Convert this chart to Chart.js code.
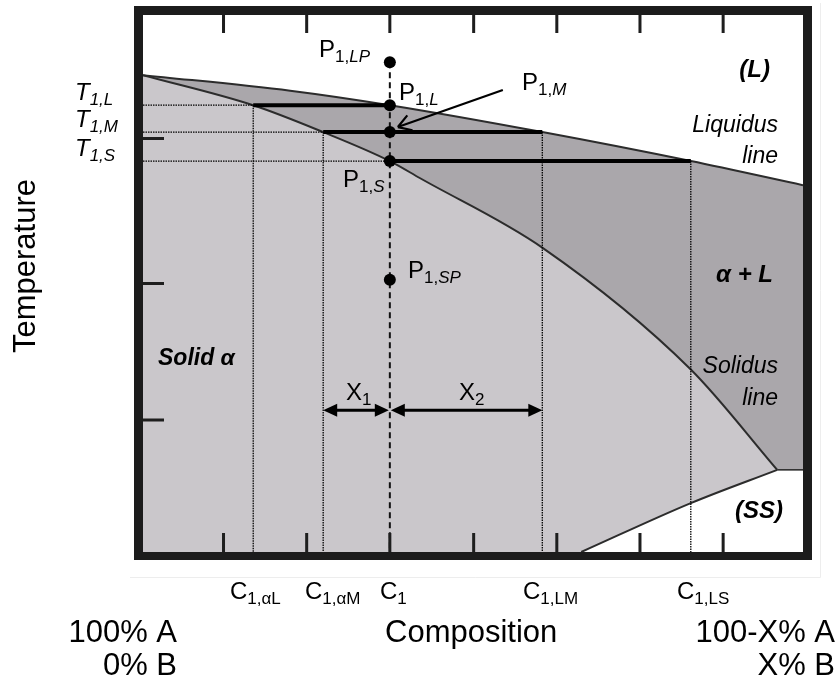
<!DOCTYPE html>
<html>
<head>
<meta charset="utf-8">
<title>Binary phase diagram – lever rule</title>
<script src="https://cdn.jsdelivr.net/npm/chart.js@4.4.1/dist/chart.umd.min.js"></script>
<style>
  html, body { margin: 0; padding: 0; background: #ffffff; }
  #wrap { width: 840px; height: 689px; }
</style>
</head>
<body>
<div id="wrap"><canvas id="diagram" width="840" height="689"></canvas></div>
<script>
// Composition axis runs 0 (pure A) .. 100 (X% B); temperature axis 0 .. 100 (arbitrary units)
const compositionTicks = [12.2, 24.8, 37.4, 50.1, 62.7, 75.3, 87.9];
const temperatureTicks = [24.6, 50.0, 77.0];

// Liquidus and solidus boundaries
const liquidusX = [0, 22.3, 37.4, 60.5, 83.0, 100];
const liquidusT = [88.8, 85.9, 83.2, 78.2, 72.8, 68.3];
const solidusX  = [0, 16.7, 27.3, 37.4, 42.0, 60.6, 83.0, 96.1];
const solidusT  = [88.8, 83.2, 78.2, 72.8, 69.6, 56.6, 34.0, 15.3];

// Boundary of the (SS) field and its horizontal shelf
const ssX = [66.4, 83.0, 96.1];
const ssT = [0, 9.1, 15.3];
const shelfX = [96.1, 100];
const shelfT = [15.3, 15.3];

// Compositions of the alloy and the phases at each temperature
const compositions = { alphaL: 16.7, alphaM: 27.3, c1: 37.4, LM: 60.5, LS: 83.0 };
// Temperatures of the marked points on the C1 vertical
const temps = { LP: 91.2, L: 83.2, M: 78.2, S: 72.8, SP: 50.7 };
const pointTemps = [temps.LP, temps.L, temps.M, temps.S, temps.SP];
// Temperature at which the X1 / X2 spans are drawn
const spanTemp = 26.4;

const pts = (xs, ts) => xs.map((v, i) => ({ x: v, y: ts[i] }));
const FONT = '"Liberation Sans", Arial, Helvetica, sans-serif';
const f = (style, size) => `${style} ${size}px ${FONT}`;

const dotted = { borderColor: '#000000', borderWidth: 1.3, borderDash: [1.5, 1], pointRadius: 0, fill: false, order: 5 };
const tie = { borderColor: '#000000', borderWidth: 4, pointRadius: 0, fill: false, order: 3 };
const curve = { borderColor: '#2c2c2c', borderWidth: 2, pointRadius: 0, cubicInterpolationMode: 'monotone' };

const c = compositions, t = temps;

const datasets = [
  { ...curve, data: pts(liquidusX, liquidusT), fill: 'start', backgroundColor: '#aaa7ab', order: 10 },
  { ...curve, data: pts(solidusX, solidusT), fill: 'start', backgroundColor: '#cac7cb', order: 9 },
  { ...curve, data: pts(ssX, ssT), fill: 'start', backgroundColor: '#ffffff', order: 8 },
  // white field under the shelf, overlapping the curve's end slightly so no seam shows
  { data: pts([shelfX[0] - 0.3, shelfX[1]], shelfT), borderWidth: 0, pointRadius: 0, fill: 'start', backgroundColor: '#ffffff', order: 8 },
  { ...curve, borderWidth: 1.6, data: pts(shelfX, shelfT), fill: false, order: 7 },
  // isotherms up to the solid-phase compositions
  { ...dotted, data: pts([0, c.alphaL], [t.L, t.L]) },
  { ...dotted, data: pts([0, c.alphaM], [t.M, t.M]) },
  { ...dotted, data: pts([0, c.c1], [t.S, t.S]) },
  // composition drop lines
  { ...dotted, data: pts([c.alphaL, c.alphaL], [t.L, 0]) },
  { ...dotted, data: pts([c.alphaM, c.alphaM], [t.M, 0]) },
  { ...dotted, data: pts([c.LM, c.LM], [t.M, 0]) },
  { ...dotted, data: pts([c.LS, c.LS], [t.S, 0]) },
  // alloy composition line
  { data: pts([c.c1, c.c1], [t.LP, 0]), borderColor: '#111111', borderWidth: 2, borderDash: [6, 4], pointRadius: 0, fill: false, order: 4 },
  // tie lines
  { ...tie, data: pts([c.alphaL, c.c1], [t.L, t.L]) },
  { ...tie, data: pts([c.alphaM, c.LM], [t.M, t.M]) },
  { ...tie, data: pts([c.c1, c.LS], [t.S, t.S]) },
  // state points
  { data: pointTemps.map(v => ({ x: c.c1, y: v })), showLine: false, pointRadius: 6, pointBackgroundColor: '#000000', pointBorderColor: '#000000', pointBorderWidth: 0, fill: false, order: 1 }
];

function rich(ctx, x, y, parts, align) {
  let w = 0;
  parts.forEach(p => { ctx.font = p[1]; w += ctx.measureText(p[0]).width; });
  let cx = align === 'right' ? x - w : (align === 'center' ? x - w / 2 : x);
  ctx.textAlign = 'left';
  ctx.textBaseline = 'alphabetic';
  parts.forEach(p => {
    ctx.font = p[1];
    ctx.fillText(p[0], cx, y + (p[2] || 0));
    cx += ctx.measureText(p[0]).width;
  });
}

function head(ctx, tipX, tipY, dir) {
  // filled arrowhead pointing in direction dir (+1 right, -1 left)
  ctx.beginPath();
  ctx.moveTo(tipX, tipY);
  ctx.lineTo(tipX - dir * 14, tipY - 6.5);
  ctx.lineTo(tipX - dir * 14, tipY + 6.5);
  ctx.closePath();
  ctx.fill();
}

function span(ctx, x1, x2, yy) {
  ctx.beginPath();
  ctx.moveTo(x1 + 8, yy);
  ctx.lineTo(x2 - 8, yy);
  ctx.stroke();
  head(ctx, x1, yy, -1);
  head(ctx, x2, yy, 1);
}

const decor = {
  id: 'diagramDecor',
  beforeDraw(chart) {
    const ctx = chart.ctx;
    ctx.save();
    ctx.strokeStyle = '#ededed';
    ctx.lineWidth = 1;
    ctx.beginPath();
    ctx.moveTo(130, 577.5); ctx.lineTo(820.5, 577.5); ctx.lineTo(820.5, 3);
    ctx.stroke();
    ctx.restore();
  },
  afterDatasetsDraw(chart) {
    const { ctx, chartArea: a, scales: { x, y } } = chart;
    ctx.save();
    ctx.fillStyle = '#000';
    ctx.strokeStyle = '#000';
    ctx.lineWidth = 3;
    ctx.lineCap = 'butt';

    // X1 and X2 spans
    const sy = y.getPixelForValue(spanTemp);
    span(ctx, x.getPixelForValue(c.alphaM), x.getPixelForValue(c.c1) - 1, sy);
    span(ctx, x.getPixelForValue(c.c1) + 1, x.getPixelForValue(c.LM), sy);

    // pointer to P1,M
    const px = x.getPixelForValue(c.c1), py = y.getPixelForValue(t.M);
    const tipX = px + 8, tipY = py - 5, sx = px + 113, sy2 = py - 42;
    ctx.lineWidth = 2.2;
    ctx.beginPath();
    ctx.moveTo(sx, sy2); ctx.lineTo(tipX, tipY);
    const ang = Math.atan2(tipY - sy2, tipX - sx);
    [-0.55, 0.55].forEach(d => {
      ctx.moveTo(tipX, tipY);
      ctx.lineTo(tipX - 15 * Math.cos(ang + d), tipY - 15 * Math.sin(ang + d));
    });
    ctx.stroke();

    // inward ticks
    ctx.strokeStyle = '#1e1e1e';
    ctx.lineWidth = 3;
    ctx.beginPath();
    compositionTicks.forEach(v => {
      const tx = x.getPixelForValue(v);
      ctx.moveTo(tx, a.top); ctx.lineTo(tx, a.top + 18);
      ctx.moveTo(tx, a.bottom); ctx.lineTo(tx, a.bottom - 19);
    });
    temperatureTicks.forEach(v => {
      const ty = y.getPixelForValue(v);
      ctx.moveTo(a.left, ty); ctx.lineTo(a.left + 21, ty);
    });
    ctx.stroke();

    // heavy frame
    ctx.fillStyle = '#1c1c1c';
    ctx.fillRect(a.left - 9, a.top - 9, 9, a.bottom - a.top + 17);
    ctx.fillRect(a.right, a.top - 9, 9, a.bottom - a.top + 17);
    ctx.fillRect(a.left - 9, a.top - 9, a.right - a.left + 18, 9);
    ctx.fillRect(a.left - 9, a.bottom, a.right - a.left + 18, 8);
    ctx.restore();
  },
  afterDraw(chart) {
    const ctx = chart.ctx;
    ctx.save();
    ctx.fillStyle = '#000';
    const N = '', I = 'italic', B = 'bold italic';

    // axis title
    ctx.save();
    ctx.translate(35, 266);
    ctx.rotate(-Math.PI / 2);
    ctx.font = f(N, 31);
    ctx.textAlign = 'center';
    ctx.textBaseline = 'alphabetic';
    ctx.fillText('Temperature', 0, 0);
    ctx.restore();

    // isotherm labels
    rich(ctx, 75, 100, [['T', f(I, 24)], ['1,L', f(I, 17), 5]]);
    rich(ctx, 75, 127, [['T', f(I, 24)], ['1,M', f(I, 17), 5]]);
    rich(ctx, 75, 156, [['T', f(I, 24)], ['1,S', f(I, 17), 5]]);

    // state point labels
    rich(ctx, 319, 57, [['P', f(N, 24)], ['1,', f(N, 17), 5], ['LP', f(I, 17), 5]]);
    rich(ctx, 399, 100, [['P', f(N, 24)], ['1,', f(N, 17), 5], ['L', f(I, 17), 5]]);
    rich(ctx, 522, 90, [['P', f(N, 24)], ['1,', f(N, 17), 5], ['M', f(I, 17), 5]]);
    rich(ctx, 343, 187, [['P', f(N, 24)], ['1,', f(N, 17), 5], ['S', f(I, 17), 5]]);
    rich(ctx, 408, 278, [['P', f(N, 24)], ['1,', f(N, 17), 5], ['SP', f(I, 17), 5]]);

    // span labels
    rich(ctx, 346, 400, [['X', f(N, 24)], ['1', f(N, 17), 5]]);
    rich(ctx, 459, 400, [['X', f(N, 24)], ['2', f(N, 17), 5]]);

    // field labels
    rich(ctx, 770, 77, [['(L)', f(B, 24)]], 'right');
    rich(ctx, 778, 132, [['Liquidus', f(I, 23)]], 'right');
    rich(ctx, 778, 163, [['line', f(I, 23)]], 'right');
    rich(ctx, 773, 282, [['\u03b1 + L', f(B, 24)]], 'right');
    rich(ctx, 778, 373, [['Solidus', f(I, 23)]], 'right');
    rich(ctx, 778, 405, [['line', f(I, 23)]], 'right');
    rich(ctx, 783, 518, [['(SS)', f(B, 24)]], 'right');
    rich(ctx, 158, 365, [['Solid \u03b1', f(B, 23)]]);

    // composition labels
    rich(ctx, 230, 599, [['C', f(N, 24)], ['1,\u03b1L', f(N, 17), 5]]);
    rich(ctx, 305, 599, [['C', f(N, 24)], ['1,\u03b1M', f(N, 17), 5]]);
    rich(ctx, 380, 599, [['C', f(N, 24)], ['1', f(N, 17), 5]]);
    rich(ctx, 523, 599, [['C', f(N, 24)], ['1,LM', f(N, 17), 5]]);
    rich(ctx, 677, 599, [['C', f(N, 24)], ['1,LS', f(N, 17), 5]]);

    // axis end labels
    rich(ctx, 177, 642, [['100% A', f(N, 31)]], 'right');
    rich(ctx, 177, 675, [['0% B', f(N, 31)]], 'right');
    rich(ctx, 385, 642, [['Composition', f(N, 31)]]);
    rich(ctx, 835, 642, [['100-X% A', f(N, 31)]], 'right');
    rich(ctx, 835, 675, [['X% B', f(N, 31)]], 'right');
    ctx.restore();
  }
};

new Chart(document.getElementById('diagram'), {
  type: 'line',
  data: { datasets },
  options: {
    responsive: false,
    devicePixelRatio: 1,
    animation: false,
    events: [],
    layout: { padding: { left: 143, right: 37, top: 15, bottom: 137 } },
    scales: {
      x: { type: 'linear', min: 0, max: 100, display: false },
      y: { type: 'linear', min: 0, max: 100, display: false }
    },
    plugins: {
      legend: { display: false },
      tooltip: { enabled: false },
      filler: { drawTime: 'beforeDatasetsDraw' }
    }
  },
  plugins: [decor]
});
</script>
</body>
</html>
